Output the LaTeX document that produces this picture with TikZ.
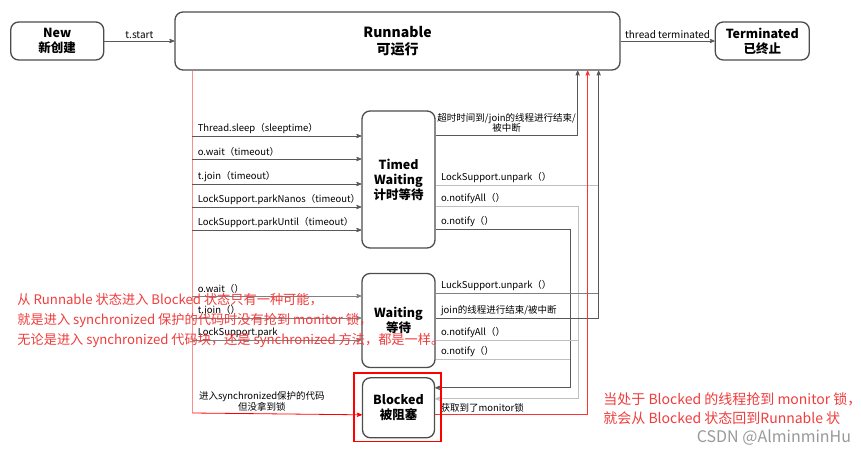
\documentclass[tikz,border=0pt]{standalone}
\usepackage{fontspec}
\setmainfont{Noto Sans CJK SC}
\usetikzlibrary{arrows,positioning}
\definecolor{notered}{RGB}{240,60,60}

\begin{document}
\begin{tikzpicture}[x=1pt,y=-1pt,->,>=stealth',line width=0.8pt,
                    node distance=70pt,font=\fontsize{9.5}{11}\selectfont]
  \tikzstyle{phase}=[draw=black!70,line width=1.3pt,rounded corners=8pt,
                     align=center,font=\bfseries\fontsize{12.5}{15}\selectfont]
  \tikzstyle{lab}=[text=black,inner sep=2pt]
  \tikzstyle{dk}=[black!65]
  \tikzstyle{md}=[black!50]
  \tikzstyle{lt}=[black!25]
  \tikzstyle{note}=[anchor=west,align=left,inner sep=0pt,text=notered,
                    font=\fontsize{13.2}{20}\selectfont]

  \useasboundingbox (0,0) rectangle (861,454);

  \node[phase,minimum width=445,minimum height=58,
        font=\bfseries\fontsize{14}{17}\selectfont] (R) at (397.5,41) {Runnable\\可运行};
  \node[phase,minimum width=93,minimum height=38]  (N) [left=of R] {New\\新创建};
  \node[phase,minimum width=94,minimum height=38]  (T) [right=94pt of R] {Terminated\\已终止};
  \node[phase,minimum width=73,minimum height=137] (TW) at (398.5,179.5) {Timed\\Waiting\\计时等待};
  \node[phase,minimum width=73,minimum height=94]  (W) at (398.5,320.5) {Waiting\\等待};
  \node[phase,minimum width=72,minimum height=60]  (B) [below=9pt of W] {Blocked\\被阻塞};

  \coordinate (L)  at ([xshift=18pt]R.south west);
  \coordinate (r1) at ([xshift=-43pt]R.south east);
  \coordinate (r2) at ([xshift=-33pt]R.south east);
  \coordinate (r3) at ([xshift=-22pt]R.south east);
  \coordinate (na) at ([xshift=143pt,yshift=9pt]B.east);
  \coordinate (nb) at ([xshift=135pt,yshift=20pt]B.east);

  \draw[dk] (N) -- node[lab,above,font=\fontsize{10}{12}\selectfont] (l0) {t.start} (R);
  \draw[dk] (R) -- node[lab,above,font=\fontsize{10}{12}\selectfont] (l1) {thread terminated} (T);

  % into timed waiting / waiting
  \draw[-,red!45] (L) -- (L |- 0,413);
  \foreach \y/\txt [count=\i] in {136/Thread.sleep（sleeptime）,159/o.wait（timeout）,
      184/t.join（timeout）,207/LockSupport.parkNanos（timeout）,230/LockSupport.parkUntil（timeout）}
    \draw[dk] (L |- 0,\y) -- node[lab,pos=0,above right,xshift=3pt] (tw\i) {\txt} (TW.west |- 0,\y);
  \foreach \y/\txt [count=\i] in {296/o.wait（）,318/t.join（）,340/LockSupport.park}
    \draw[md] (L |- 0,\y) -- node[lab,pos=0,above right,xshift=3pt] (w\i) {\txt} (W.west |- 0,\y);

  % out of timed waiting
  \draw[dk] (TW.east |- 0,135) -| node[lab,pos=0.25,above,align=center,
      font=\fontsize{9.5}{10.5}\selectfont] (tw6) {超时时间到/join的线程进行结束/\\被中断} (r1);
  \draw[-,lt] (TW.east |- 0,185) -- node[lab,pos=0,above right,xshift=3pt] (tw7) {LockSupport.unpark（）} (r3 |- 0,185);
  \draw[lt] (TW.east |- 0,206) -| node[lab,pos=0,above right,xshift=3pt] (tw8) {o.notifyAll（）} (na)
      -- ([yshift=9pt]B.east);
  \draw[dk] (TW.east |- 0,229) -| node[lab,pos=0,above right,xshift=3pt] (tw9) {o.notify（）} (nb)
      -- ([yshift=20pt]B.east);

  % out of waiting
  \draw[-,md] (W.east |- 0,293) -- node[lab,pos=0,above right,xshift=3pt] (w4) {LuckSupport.unpark（）} (r3 |- 0,293);
  \draw[dk] (W.east |- 0,318) -| node[lab,pos=0,above right,xshift=3pt] (w5) {join的线程进行结束/被中断} (r3);
  \draw[-,lt] (W.east |- 0,340) -- node[lab,pos=0,above right,xshift=3pt] (w6) {o.notifyAll（）} (na |- 0,340);
  \draw[-,lt] (W.east |- 0,359) -- node[lab,pos=0,above right,xshift=3pt] (w7) {o.notify（）} (nb |- 0,359);

  % blocked
  \draw[red] (L |- 0,413) -- node[lab,pos=0.41,above,align=center,
      font=\fontsize{9.5}{11}\selectfont] (b1) {进入synchronized保护的代码\\但没拿到锁} ([yshift=-7pt]B.west);
  \draw[red!80] ([yshift=-7pt]B.east) -| node[lab,pos=0,above right,xshift=3pt] (b2) {获取到了monitor锁} (r2);
  \draw[-,red,line width=1.5pt] ([xshift=-8pt,yshift=4pt]B.north west)
      rectangle ([xshift=6pt,yshift=-3pt]B.south east);

  \node[note] (n1) at (17,320) {从 Runnable 状态进入 Blocked 状态只有一种可能，\\
    就是进入 synchronized 保护的代码时没有抢到 monitor 锁，\\
    无论是进入 synchronized 代码块，还是 synchronized 方法，都是一样。};
  \node[note,font=\fontsize{14}{19}\selectfont] (n2) at (603,408.5) {当处于 Blocked 的线程抢到 monitor 锁，\\
    就会从 Blocked 状态回到Runnable 状};
  \node[text=black!40,font=\fontsize{16}{18}\selectfont] (wm) at (774,438) {CSDN @AlminminHu};
\end{tikzpicture}
\end{document}
